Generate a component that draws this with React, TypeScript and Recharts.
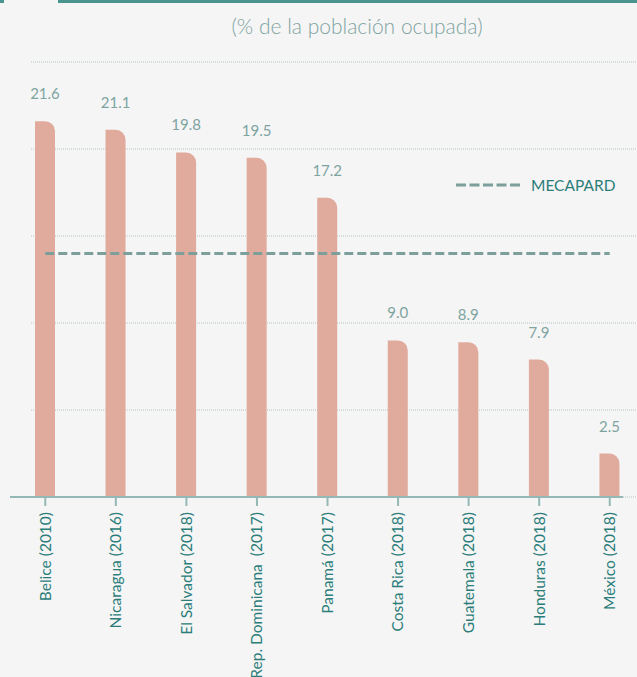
import React from 'react';
import {
    BarChart, Bar, XAxis, YAxis, CartesianGrid, ReferenceLine, LabelList
} from 'recharts';

const categories = [
    'Belice (2010)',
    'Nicaragua (2016)',
    'El Salvador (2018)',
    'Rep. Dominicana\u00a0 (2017)',
    'Panamá (2017)',
    'Costa Rica (2018)',
    'Guatemala (2018)',
    'Honduras (2018)',
    'México (2018)',
];
const shares = [21.6, 21.1, 19.8, 19.5, 17.2, 9.0, 8.9, 7.9, 2.5];
const mecapard = 14.0;
const yTicks = [5, 10, 15, 20, 25];

const chartData = categories.map((name, i) => ({ name, value: shares[i] }));

const FONT = 'Lato, "Open Sans", sans-serif';
const BAR = '#e0ab9d';
const TEAL = '#2b7d7a';
const SOFT_TEAL = '#7ea4a1';
const AXIS = '#93b8b5';

function CountryTick(props: any) {
    const { x, y, payload } = props;
    return (
        <g transform={`translate(${x},${y}) rotate(-90)`}>
            <text
                x={0}
                y={0}
                dy="0.35em"
                textAnchor="end"
                fill={TEAL}
                fontSize={15.5}
                fontFamily={FONT}
            >
                {payload.value}
            </text>
        </g>
    );
}

// grid lines run a bit further than the plot area in the original
function GridLine(props: any) {
    return (
        <line
            key={`h-${props.index}`}
            x1={props.x1 + 21}
            x2={props.x2 + 14}
            y1={props.y1}
            y2={props.y2}
            stroke="#b5c3c2"
            strokeWidth={1}
            strokeDasharray="1 1"
        />
    );
}

export default function App() {
    return (
        <div
            style={{
                position: 'absolute',
                left: 0,
                top: 0,
                width: 637,
                height: 677,
                overflow: 'hidden',
                background: '#f5f5f5',
                fontFamily: FONT,
            }}
        >
            <div style={{ position: 'absolute', left: 0, top: 0, width: 4, height: 3, background: '#4a9590' }} />
            <div style={{ position: 'absolute', left: 58, top: 0, width: 579, height: 3, background: '#4a9590' }} />
            <div
                style={{
                    position: 'absolute',
                    left: 0,
                    width: 714,
                    top: 12,
                    textAlign: 'center',
                    fontSize: 21,
                    fontWeight: 300,
                    color: SOFT_TEAL,
                    lineHeight: '28px',
                }}
            >
                (% de la población ocupada)
            </div>

            <BarChart
                width={637}
                height={677}
                data={chartData}
                margin={{ top: 62, right: 14, left: 10, bottom: 0 }}
            >
                <CartesianGrid vertical={false} horizontal={GridLine} />
                <XAxis
                    dataKey="name"
                    interval={0}
                    height={180}
                    padding={{ left: 0, right: -22 }}
                    axisLine={{ stroke: AXIS, strokeWidth: 2 }}
                    tickLine={{ stroke: AXIS, strokeWidth: 2 }}
                    tickSize={9}
                    tickMargin={6}
                    tick={<CountryTick />}
                />
                <YAxis hide domain={[0, 25]} ticks={yTicks} />
                <Bar
                    dataKey="value"
                    fill={BAR}
                    barSize={20}
                    radius={[0, 10, 0, 0]}
                    isAnimationActive={false}
                >
                    <LabelList
                        dataKey="value"
                        position="top"
                        offset={22}
                        fill={SOFT_TEAL}
                        fontSize={15}
                        fontFamily={FONT}
                        formatter={(v: any) => Number(v).toFixed(1)}
                    />
                </Bar>
                <ReferenceLine
                    segment={[
                        { x: categories[0], y: mecapard },
                        { x: categories[categories.length - 1], y: mecapard },
                    ]}
                    stroke="#7d9f9c"
                    strokeWidth={3}
                    strokeDasharray="9 4"
                />
            </BarChart>

            <div
                style={{
                    position: 'absolute',
                    left: 456,
                    top: 175,
                    display: 'flex',
                    alignItems: 'center',
                    fontSize: 15.5,
                    color: TEAL,
                }}
            >
                <svg width={64} height={20}>
                    <line x1={0} x2={64} y1={10} y2={10} stroke="#7d9f9c" strokeWidth={3} strokeDasharray="10 3.5" />
                </svg>
                <span style={{ marginLeft: 11 }}>MECAPARD</span>
            </div>
        </div>
    );
}
